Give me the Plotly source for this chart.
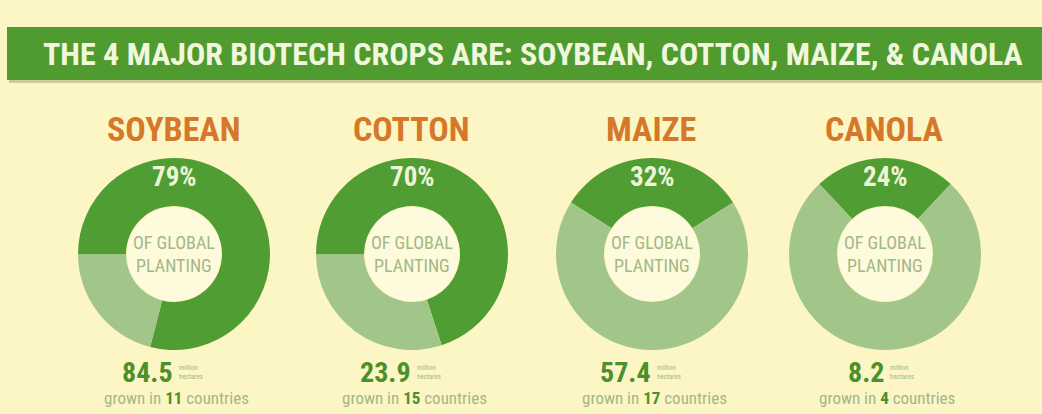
import plotly.graph_objects as go

# ---- data ----
crops = ["SOYBEAN", "COTTON", "MAIZE", "CANOLA"]
share_pct = [79, 70, 32, 24]
hectares_m = ["84.5", "23.9", "57.4", "8.2"]
countries = [11, 15, 17, 4]
start_angle = [-90, -90, -57.6, -43.2]

title_text = "THE 4 MAJOR BIOTECH CROPS ARE: SOYBEAN, COTTON, MAIZE, & CANOLA"

# ---- style / layout ----
W, H = 1042, 414
BG = "#fcf6c4"
BANNER = "#4f9b2f"
DARK = "#4f9d33"
LIGHT = "#a2c689"
ORANGE = "#d5782a"
GREYGREEN = "#a3b789"
NUMGREEN = "#4c8f2d"
FONT = "Liberation Sans Narrow, Roboto Condensed, Arial Narrow, sans-serif"

centers_x = [174, 412, 652, 885]
center_y = 254
R = 96


def px(x):
    return x / W


def py(y):
    return 1 - y / H


fig = go.Figure()
annotations = []
shapes = []

# banner
shapes.append(dict(type="rect", xref="paper", yref="paper", x0=px(9), x1=px(1045),
                   y0=py(83), y1=py(30), fillcolor="rgba(60,80,20,0.25)", line_width=0, layer="below"))
shapes.append(dict(type="rect", xref="paper", yref="paper", x0=px(7), x1=px(1045),
                   y0=py(80), y1=py(27), fillcolor=BANNER, line_width=0, layer="below"))
annotations.append(dict(text="<b>" + title_text + "</b>", xref="paper", yref="paper",
                        x=px(533), y=py(54), showarrow=False,
                        font=dict(family=FONT, size=32, color="#f1f7dc"),
                        xanchor="center", yanchor="middle"))

for i, crop in enumerate(crops):
    cx = centers_x[i]
    fig.add_trace(go.Pie(
        values=[share_pct[i], 100 - share_pct[i]],
        labels=[crop + " biotech", crop + " other"],
        marker=dict(colors=[DARK, LIGHT], line=dict(width=0)),
        hole=0.5, sort=False, direction="clockwise", rotation=start_angle[i],
        textinfo="none", hoverinfo="label+value", showlegend=False,
        domain=dict(x=[px(cx - R), px(cx + R)], y=[py(center_y + R), py(center_y - R)]),
    ))
    # soft lighter hole
    shapes.append(dict(type="circle", xref="paper", yref="paper",
                       x0=px(cx - 47), x1=px(cx + 47), y0=py(center_y + 47), y1=py(center_y - 47),
                       fillcolor="#fefbdc", line_width=0, layer="below"))
    # crop title
    annotations.append(dict(text="<b>" + crop + "</b>", xref="paper", yref="paper",
                            x=px(cx - 1), y=py(129), showarrow=False,
                            font=dict(family=FONT, size=34, color=ORANGE),
                            xanchor="center", yanchor="middle"))
    # percentage
    annotations.append(dict(text="<b>%d%%</b>" % share_pct[i], xref="paper", yref="paper",
                            x=px(cx), y=py(177), showarrow=False,
                            font=dict(family=FONT, size=27, color="#eef5d6"),
                            xanchor="center", yanchor="middle"))
    # center text
    annotations.append(dict(text="OF GLOBAL<br>PLANTING", xref="paper", yref="paper",
                            x=px(cx), y=py(center_y), showarrow=False,
                            font=dict(family=FONT, size=18, color=GREYGREEN),
                            xanchor="center", yanchor="middle"))
    # hectares number
    annotations.append(dict(text="<b>" + hectares_m[i] + "</b>", xref="paper", yref="paper",
                            x=px(cx + 1), y=py(372), showarrow=False,
                            font=dict(family=FONT, size=28, color=NUMGREEN),
                            xanchor="right", yanchor="middle"))
    annotations.append(dict(text="million<br>hectares", xref="paper", yref="paper",
                            x=px(cx + 3), y=py(372), showarrow=False,
                            font=dict(family=FONT, size=7, color=GREYGREEN),
                            xanchor="left", yanchor="middle", align="left"))
    # countries
    annotations.append(dict(text="grown in <b><span style='color:%s'>%d</span></b> countries" % (NUMGREEN, countries[i]),
                            xref="paper", yref="paper",
                            x=px(cx + 2), y=py(398), showarrow=False,
                            font=dict(family=FONT, size=17, color=GREYGREEN),
                            xanchor="center", yanchor="middle"))

fig.update_layout(
    width=W, height=H,
    margin=dict(l=0, r=0, t=0, b=0),
    paper_bgcolor=BG, plot_bgcolor=BG,
    annotations=annotations, shapes=shapes,
)

fig.write_html("out.html", config={"displayModeBar": False},
               post_script="document.body.style.margin='0';document.body.style.overflow='hidden';")
